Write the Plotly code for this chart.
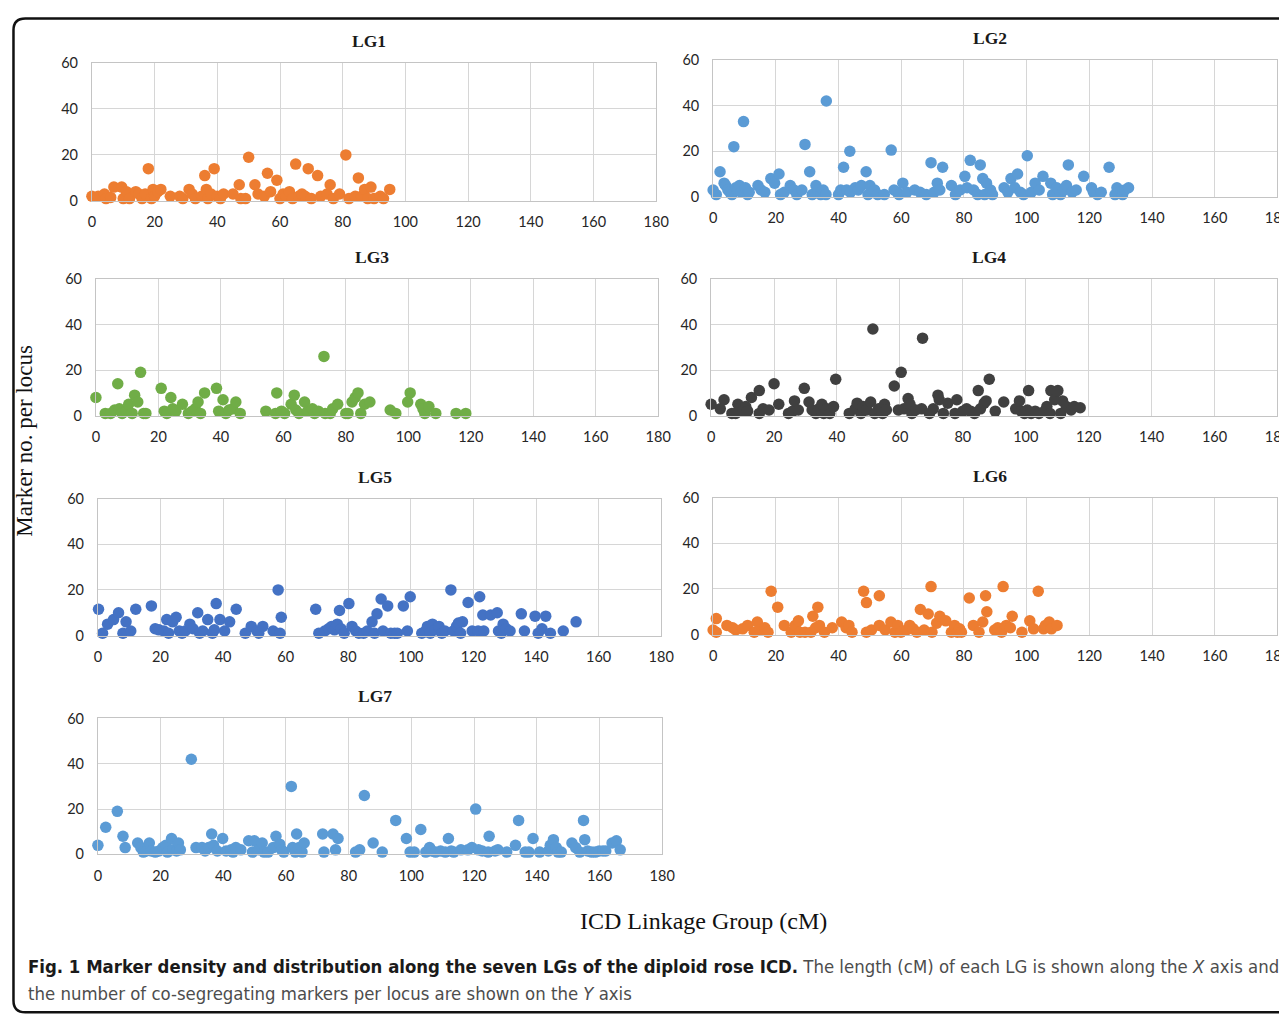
import plotly.graph_objects as go

W, H = 1287, 1016

# ---------------- data (cM position, markers per locus) ----------------
lg1_x = [0, 2, 4, 4.5, 6, 7, 9.5, 10, 11, 12, 14, 15, 16, 17, 18, 19, 19.5, 20, 21, 22, 25, 28, 29, 31, 32, 33, 35, 36, 36.5, 37, 38, 39, 40, 41, 42, 45, 47, 47.5, 49, 50, 52, 53, 55, 56, 57, 59, 60, 61, 62, 63, 64, 65, 66, 67, 68, 69, 70, 72, 73, 75, 76, 77, 79, 81, 82, 84, 85, 86, 87, 88, 89, 90, 92, 93, 95]
lg1_y = [2, 2, 3, 1, 1.5, 6, 6, 1, 4, 1, 4, 3, 1, 3, 14, 1, 5, 2, 4, 5, 2, 2, 1, 5, 3, 1, 2, 11, 5, 1, 3, 14, 2, 1, 3, 3, 7, 1, 1, 19, 7, 3, 2, 12, 4, 9, 1, 3, 2, 4, 1, 16, 2, 3, 2, 14, 1, 11, 2, 3, 7, 1, 3, 20, 1, 2, 10, 2, 5, 1, 6, 1, 2, 1, 5]

lg2_x = [0, 1, 2.2, 3.5, 4, 4.7, 5.3, 6, 6.6, 7.2, 7.8, 8.4, 9, 9.7, 10.3, 11, 11.5, 14.3, 15.3, 16.5, 18.4, 19.6, 21, 21.5, 22.7, 24.6, 25.8, 26.7, 28.3, 29.3, 30.8, 31.6, 32.8, 33.5, 34.3, 35.1, 36.1, 36, 40, 40.7, 41.6, 42.6, 43.6, 43.8, 45.3, 46.3, 47.3, 48.8, 49.4, 50, 51.5, 52.5, 54.6, 56.8, 57.7, 58.7, 59.3, 60.5, 61.8, 64.3, 66, 68, 69.5, 70.5, 71.5, 72.3, 73.2, 76, 77.3, 78.8, 80.3, 81, 82, 83.1, 84.4, 85.2, 86, 86.6, 87.2, 88.5, 89.1, 92.8, 94, 95, 96.2, 97.1, 98, 99, 100.2, 101.5, 102.7, 104, 105.2, 107.7, 108.3, 109.6, 110.8, 112, 112.7, 113.3, 114.5, 115.8, 118.2, 120.7, 121.3, 122.6, 123.8, 126.3, 128.2, 128.8, 130, 130.6, 131.3, 132.5]
lg2_y = [3, 1, 11, 6, 5, 3, 2, 1, 22, 4, 3, 5, 2, 33, 4, 1, 2, 5, 3, 2, 8, 6, 10, 1, 2, 5, 3, 1, 3, 23, 11, 1, 5, 3, 1, 3, 42, 1, 1, 3, 13, 3, 20, 2, 4, 3, 5, 11, 1, 5, 3, 1, 1, 20.5, 3, 2, 1, 6, 2, 3, 2, 1, 15, 2, 6, 3, 13, 5, 1, 3, 9, 4, 16, 3, 1, 14, 8, 1, 6, 3, 1, 4, 2, 8, 4, 10, 2, 1, 18, 2, 6, 3, 9, 6, 1, 4, 1, 3, 5, 14, 2, 3, 9, 4, 2, 1, 2, 13, 1, 4, 2, 1, 3, 4]

lg3_x = [0, 3, 4.7, 6, 7, 7.5, 8.4, 9.7, 10.5, 11.6, 12.4, 13.4, 14.3, 15.3, 16, 20.9, 21.9, 22.7, 24, 24.6, 25.6, 27.7, 29.6, 30.8, 31.8, 32.7, 33.5, 34.8, 38.6, 39.3, 40.7, 41.6, 42.6, 43.8, 44.8, 46.2, 54.4, 57.5, 57.9, 59.4, 60.4, 62.5, 63.5, 64, 65, 66.8, 67.8, 69.3, 70, 71.2, 73, 73.4, 75, 75.8, 77.4, 80, 80.7, 82, 83, 83.9, 84.8, 86, 87.7, 94.2, 96, 99.8, 100.6, 104, 104.7, 105.3, 106.6, 108.8, 115.3, 118.4]
lg3_y = [8, 1, 1, 2.5, 14, 3, 1, 2, 5, 1, 9, 6, 19, 1, 1, 12, 2, 1, 8, 3, 2, 5, 1, 2, 3, 6, 1, 10, 12, 2, 7, 1, 2.5, 3, 6, 1, 2, 1, 10, 2, 1, 5, 9, 2.5, 1, 6, 2, 3, 1, 2, 26, 1, 1, 3, 5, 1, 1, 6, 8, 10, 1, 5, 6, 2.5, 1, 6, 10, 5, 3, 1, 4, 1, 1, 1]

lg4_x = [0, 2.9, 4.1, 6.6, 7.8, 8.5, 9.1, 10, 11, 11.6, 12.8, 15.3, 15.3, 16.5, 18.4, 20, 21.5, 24.6, 25.9, 26.5, 27.7, 29.6, 31.1, 32.1, 33.3, 34.2, 35.2, 35.8, 36.8, 37.7, 38.9, 39.6, 43.9, 45.8, 46.4, 47.6, 48.3, 49.5, 50.7, 51.4, 52, 53.2, 54.5, 55.1, 55.7, 58.2, 59.5, 60.4, 61.3, 62.6, 63.2, 63.8, 65, 66.9, 67.2, 69.4, 70.6, 72.1, 72.5, 73.8, 75.2, 77.5, 78.1, 80, 81.2, 82.5, 83.7, 84.9, 85.6, 86.8, 87.4, 88.4, 90.3, 93, 96.8, 98, 98.6, 99.6, 100.5, 100.9, 101.7, 103, 104.2, 106, 106.7, 107.7, 108, 109.2, 110.2, 111.1, 111.7, 112.9, 114.4, 115.4, 117.3]
lg4_y = [5, 3, 7, 1, 1, 5, 3, 2, 4, 2, 8, 11, 1, 3, 2.5, 14, 5, 1, 2, 6.5, 2.5, 12, 6, 2.5, 1, 3, 5, 1, 3, 1, 4, 16, 1, 3, 5.5, 1, 4, 2.5, 6, 38, 1, 3, 1, 5, 2.5, 13, 2.5, 19, 3, 7.5, 5, 1, 2.5, 3, 34, 1, 3, 9, 7, 1, 5.5, 1, 7, 2, 3, 2, 1, 11, 3, 5.5, 6.5, 16, 2, 6, 3, 6.5, 2, 1, 2.5, 11, 1, 2, 1, 2, 4, 1, 11, 7, 11, 1, 6.5, 4, 2.5, 4, 3.5]

lg5_x = [0.2, 1.5, 3.1, 5, 6.6, 8, 9, 10.5, 12.1, 17.1, 18.3, 19.5, 21.1, 22, 22.6, 23.9, 25, 26, 26.9, 27.9, 29.4, 30.4, 31.9, 32.5, 33.5, 35.1, 36.6, 37.2, 37.8, 39, 40.5, 42.1, 44.2, 47.1, 49, 50.8, 51.4, 52.7, 56, 57.6, 58.6, 58.2, 69.6, 70.6, 72.5, 73.7, 74.7, 75.6, 76.5, 77.2, 77.7, 78.7, 80.2, 81.2, 82.4, 83.4, 84.9, 86.1, 87.6, 88.4, 89.2, 90.5, 91.1, 92.6, 93.6, 94.8, 95.7, 97.6, 98.9, 99.8, 103.5, 104.7, 105.3, 106.2, 106.9, 107.8, 109, 109.9, 110.9, 112.8, 113.6, 114.6, 115.2, 115.9, 116.5, 118.3, 119.6, 121.5, 122, 123, 123.3, 125.5, 127.6, 128, 128.9, 129.5, 130.5, 131.7, 135.3, 136.3, 139.7, 140.7, 141.9, 143.1, 144.6, 148.7, 152.8]
lg5_y = [11.5, 1, 5, 7, 10, 1, 6, 2, 11.5, 13, 3, 2.5, 2, 7, 1, 6, 8, 2, 1, 2, 5, 3, 10, 1, 2, 7, 1, 2.5, 14, 7, 2, 6, 11.5, 1, 4, 2, 1, 4, 2, 20, 8, 1, 11.5, 1, 2, 3, 4, 2.5, 5, 11, 3, 1, 14, 4, 2, 1, 1, 2, 6, 1, 9.5, 16, 2, 13, 1, 1, 1, 13, 2, 17, 1, 2, 4, 1, 5, 2.5, 4, 1, 2, 20, 2, 4, 5.5, 1, 6, 14.5, 2, 2, 17, 9, 2, 9, 10, 2, 1, 5, 3, 2, 9.5, 2, 8.5, 1, 3, 8.5, 1, 2, 6]

lg6_x = [0, 1, 1, 4.4, 6.2, 7.2, 9.4, 11, 13.1, 14.1, 15, 16.5, 17.5, 18.5, 20.6, 22.7, 24.9, 26.2, 27.2, 27.7, 29.3, 31.2, 31.8, 32.7, 33.4, 33.9, 35.5, 38, 41, 42.4, 43.3, 44.3, 48, 48.9, 48.9, 50.5, 53, 53, 54.9, 56.7, 58, 58.9, 59.9, 61.7, 62.7, 63.8, 65, 66.1, 67.3, 68.6, 69.5, 69.8, 71.3, 72.3, 74.2, 76, 77, 77.9, 78.6, 79.2, 81.7, 83, 84.8, 86, 86.9, 87.3, 89.8, 90.8, 92, 92.5, 93.5, 94.8, 95.4, 98.5, 101, 102.2, 103.7, 105.4, 106, 107.2, 107.9, 109.7]
lg6_y = [2, 7, 1, 4, 3, 2, 2.5, 4, 1, 5.5, 2, 3, 1, 19, 12, 4, 1, 4, 6, 1, 1, 1, 8, 3, 12, 4, 1, 3, 5.5, 3, 4, 1, 19, 14, 1, 2, 17, 4, 2, 5.5, 1, 4, 1, 2, 4, 2.5, 1, 11, 2, 9, 21, 1, 5, 8, 6, 1, 4, 1, 2.5, 1, 16, 4, 1, 5.5, 17, 10, 2, 3, 1, 21, 4, 3, 8, 1, 6, 2.5, 19, 2.5, 4, 5.5, 2.5, 4]

lg7_x = [0, 2.5, 6.2, 8, 8.7, 12.7, 13.7, 14.5, 15.4, 16.4, 17, 18.3, 19.5, 20.7, 21.7, 22.2, 23.5, 23.9, 25.1, 25.7, 26.3, 29.8, 31.3, 33.2, 34.2, 35.3, 36.3, 36.9, 38.1, 39.8, 40.9, 42.5, 43.1, 44, 45.6, 48.1, 49.3, 49.9, 51.2, 52.4, 53, 54.3, 55.9, 56.8, 58, 58.6, 59.3, 61.7, 62.1, 63, 63.4, 64.2, 65.1, 65.8, 71.7, 72.1, 75, 75.8, 76.6, 82.2, 83.5, 85, 87.8, 90.7, 95, 98.4, 99.6, 100.9, 103, 104.6, 105.8, 106.5, 107.7, 109.3, 110.8, 111.8, 112.7, 113.5, 115.8, 118, 119.3, 120.5, 121.4, 122.6, 124.5, 124.8, 126.7, 127.6, 130.4, 133.2, 134.2, 136.3, 137.5, 138.8, 140.9, 143.7, 144.3, 145.3, 146.2, 146.8, 147.8, 151.2, 152.4, 153.7, 154.9, 155.3, 156.2, 157.5, 158.7, 159.9, 161.1, 162, 164, 165.4, 166.6]
lg7_y = [4, 12, 19, 8, 3, 5, 3, 1, 1.5, 5, 1.5, 1, 1.5, 3, 4, 1, 7, 2, 1.5, 5, 2, 42, 3, 3, 1.5, 3, 9, 4, 1.5, 7, 1.5, 2, 1, 3, 2, 6, 1, 6, 2, 5, 1, 1, 3, 8, 4.5, 2, 1, 30, 3, 1, 9, 3, 1, 5, 9, 1, 9, 2, 7, 1, 2, 26, 5, 1, 15, 7, 1, 1, 11, 1, 3, 1.5, 1, 1.5, 1, 7, 1.5, 1, 2, 2, 3, 20, 2, 1.5, 1, 8, 1.5, 2, 1, 4, 15, 1, 1, 7, 1, 1.5, 4, 6.5, 3, 1, 1, 5, 3, 1, 15, 6.5, 1.5, 1, 1, 1.5, 1.5, 1.5, 5, 6, 2]

group_names = ["LG1", "LG2", "LG3", "LG4", "LG5", "LG6", "LG7"]
group_x = [lg1_x, lg2_x, lg3_x, lg4_x, lg5_x, lg6_x, lg7_x]
group_y = [lg1_y, lg2_y, lg3_y, lg4_y, lg5_y, lg6_y, lg7_y]
x_ticks = [0, 20, 40, 60, 80, 100, 120, 140, 160, 180]
y_ticks = [0, 20, 40, 60]

# ---------------- styling / layout ----------------
colors = ["#ED7D31", "#5B9BD5", "#70AD47", "#404040", "#4472C4", "#ED7D31", "#5B9BD5"]
# plot areas in target screen pixels: (left, right, top, bottom)
boxes = [
    (91, 656, 62, 200),
    (713, 1278, 59, 196),
    (95, 658, 278, 415),
    (711, 1278, 278, 415),
    (97, 661, 498, 635),
    (713, 1278, 497, 634),
    (97, 662, 718, 854),
]

# observed page->screenshot placement: screen = off + k * figure_px
OX, KX = 11.0, 0.988
OY, KY = 16.0, 0.984

def px(v):
    return min(max((v - OX) / KX, 0), W) / W

def py(v):
    return 1 - min(max((v - OY) / KY, 0), H) / H

fig = go.Figure()
layout = dict(
    width=W, height=H, autosize=False,
    margin=dict(l=0, r=0, t=0, b=0),
    paper_bgcolor="white", plot_bgcolor="white",
    showlegend=False,
)
tick_font = dict(family="Lato, Calibri, 'Liberation Sans', sans-serif", size=14.5, color="#262626")
annotations = []
shapes = []

for i, (name, xs, ys, col, box) in enumerate(zip(group_names, group_x, group_y, colors, boxes)):
    n = i + 1
    xa = "x" if n == 1 else f"x{n}"
    ya = "y" if n == 1 else f"y{n}"
    fig.add_trace(go.Scatter(
        x=xs, y=ys, mode="markers", xaxis=xa, yaxis=ya,
        marker=dict(color=col, size=11.5, line=dict(width=0)),
        cliponaxis=False, hoverinfo="x+y", name=name,
    ))
    l, r, t, b = box
    layout[f"xaxis{'' if n == 1 else n}"] = dict(
        domain=[px(l), px(r)], anchor=ya, range=[0, 180],
        tickvals=x_ticks, ticktext=[str(v) for v in x_ticks],
        showgrid=True, gridcolor="#d6d6d6", gridwidth=1,
        showline=True, linecolor="#c4c4c4", linewidth=1, mirror=True,
        ticks="outside", ticklen=8, tickcolor="rgba(0,0,0,0)",
        tickfont=tick_font, zeroline=False, fixedrange=True,
    )
    layout[f"yaxis{'' if n == 1 else n}"] = dict(
        domain=[py(b), py(t)], anchor=xa, range=[0, 60],
        tickvals=y_ticks, ticktext=[str(v) for v in y_ticks],
        showgrid=True, gridcolor="#d6d6d6", gridwidth=1,
        showline=True, linecolor="#c4c4c4", linewidth=1, mirror=True,
        ticks="outside", ticklen=10, tickcolor="rgba(0,0,0,0)",
        tickfont=tick_font, zeroline=False, fixedrange=True,
    )
    annotations.append(dict(
        text=f"<b>{name}</b>", x=px((l + r) / 2 - 5), y=py(t - 22),
        xref="paper", yref="paper", showarrow=False,
        xanchor="center", yanchor="middle",
        font=dict(family="'Liberation Serif', 'Times New Roman', serif", size=17.5, color="#1a1a1a"),
    ))

serif = "'Liberation Serif', 'Times New Roman', serif"
annotations.append(dict(
    text="Marker no. per locus", x=px(24), y=py(440), xref="paper", yref="paper",
    showarrow=False, textangle=-90, xanchor="center", yanchor="middle",
    font=dict(family=serif, size=23, color="#111111"),
))
annotations.append(dict(
    text="ICD Linkage Group (cM)", x=px(703), y=py(921), xref="paper", yref="paper",
    showarrow=False, xanchor="center", yanchor="middle",
    font=dict(family=serif, size=24, color="#111111"),
))
cap_font = "'DejaVu Sans Condensed', 'Liberation Sans Narrow', sans-serif"
annotations.append(dict(
    text="<b>Fig. 1 Marker density and distribution along the seven LGs of the diploid rose ICD.</b>"
         "<span style='color:#4d4d4d'> The length (cM) of each LG is shown along the <i>X</i> axis and</span>",
    x=px(25), y=py(966), xref="paper", yref="paper", showarrow=False,
    xanchor="left", yanchor="middle",
    font=dict(family=cap_font, size=18.4, color="#1a1a1a"),
))
annotations.append(dict(
    text="the number of co-segregating markers per locus are shown on the <i>Y</i> axis",
    x=px(25), y=py(993), xref="paper", yref="paper", showarrow=False,
    xanchor="left", yanchor="middle",
    font=dict(family=cap_font, size=18.4, color="#4d4d4d"),
))

# outer rounded frame (runs off the right edge)
fx0, fy0 = 1.5 / W, 1 - 1.5 / H
fyb = py(1012)
rx, ry = 12 / W, 12 / H
shapes.append(dict(
    type="path", xref="paper", yref="paper",
    path=(f"M 1.01,{fy0} L {fx0 + rx},{fy0} "
          f"Q {fx0},{fy0} {fx0},{fy0 - ry} "
          f"L {fx0},{fyb + ry} Q {fx0},{fyb} {fx0 + rx},{fyb} "
          f"L 1.01,{fyb}"),
    line=dict(color="#111111", width=2.5),
))

layout["annotations"] = annotations
layout["shapes"] = shapes
fig.update_layout(**layout)
fig.write_html("out.html")
